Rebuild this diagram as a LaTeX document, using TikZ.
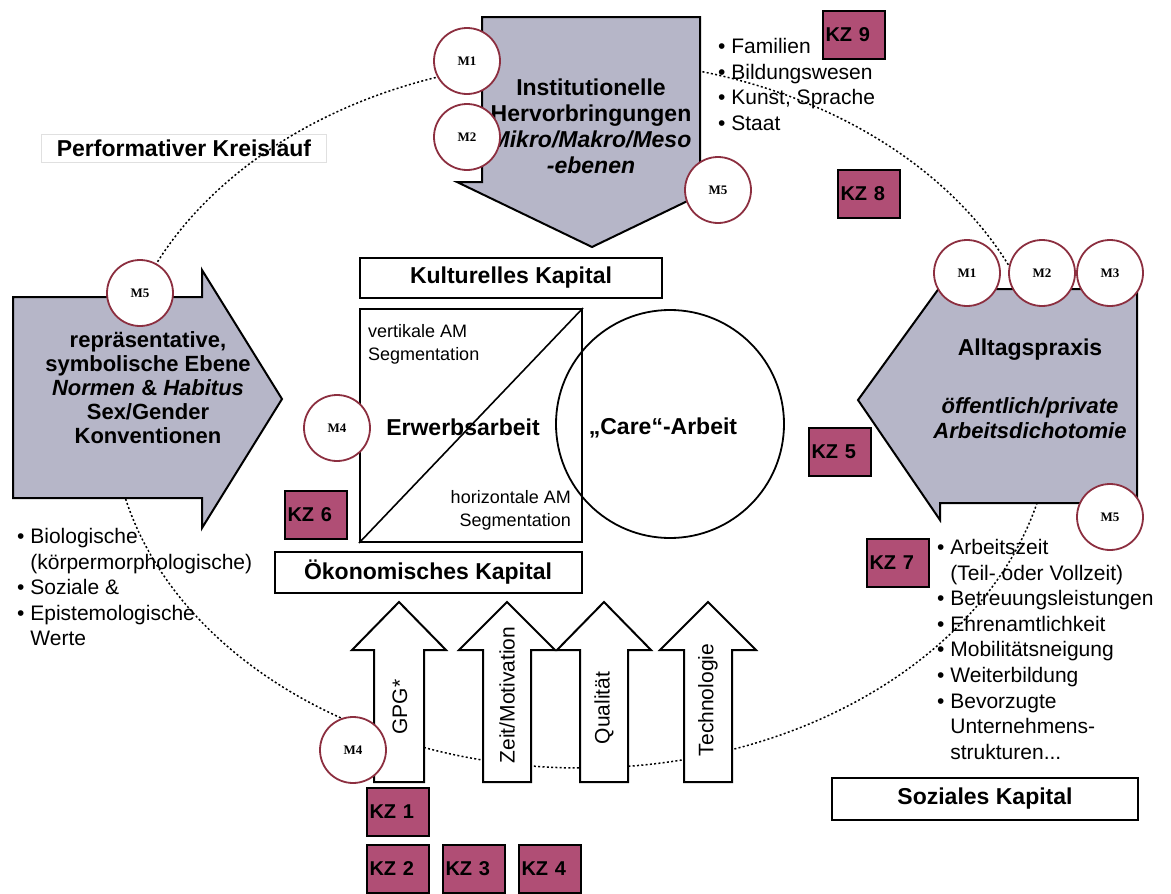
\documentclass[tikz,border=0pt]{standalone}
\usepackage{fontspec}
\setmainfont{Liberation Sans}
\newfontfamily\mfont{Liberation Serif}
\definecolor{arrowgray}{HTML}{B6B6C8}
\definecolor{kzrose}{HTML}{B04E75}
\definecolor{ringred}{HTML}{8C2F40}
\newcommand{\lbul}{\textbullet\ }
\newcommand{\lind}{\phantom{\textbullet\ }}
\begin{document}
\begin{tikzpicture}[x=1pt,y=-1pt,
  mring/.style={circle, draw=ringred, line width=1.8pt, fill=white, minimum size=66pt, inner sep=0pt, font=\mfont\fontsize{13}{13}\selectfont\bfseries},
  kzbox/.style={draw=black, line width=2.2pt, fill=kzrose, minimum height=48pt, text width=57pt, inner xsep=2.5pt, inner ysep=0pt, align=left, font=\fontsize{20}{20}\selectfont\bfseries},
  kapital/.style={draw=black, line width=2pt, fill=white, inner sep=0pt, font=\fontsize{23}{23}\selectfont\bfseries},
  grayarrow/.style={draw=black, line width=2pt, fill=arrowgray, line join=miter},
  whitearrow/.style={draw=black, line width=2pt, fill=white, line join=miter},
  headline/.style={align=center, inner sep=0pt, font=\fontsize{23}{26}\selectfont\bfseries},
  bullets/.style={align=left, anchor=north west, inner sep=0pt, font=\fontsize{21}{25.6}\selectfont},
  vlabel/.style={rotate=90, inner sep=0pt, font=\fontsize{21}{21}\selectfont},
  cycleline/.style={line width=1.5pt, dash pattern=on 2pt off 2.3pt}
]
\useasboundingbox (0,0) rectangle (1171,894);
\fill[white] (0,0) rectangle (1171,894);

% title of the cycle
\node[draw=black!12, fill=white, minimum width=285pt, minimum height=28pt, inner sep=0pt,
      font=\fontsize{23}{23}\selectfont\bfseries] (kreislauf) at (184,148) {Performativer Kreislauf};

% performative cycle
\draw[cycleline] (582,414) ellipse [x radius=470, y radius=354];

% top block arrow
\draw[grayarrow] (482,17) -- (700,17) -- (700,182) -- (727,182) -- (592,247) -- (457,182) -- (482,182) -- cycle;
\node[headline] (inst) at (591,126) {Institutionelle\\Hervorbringungen\\\textit{Mikro/Makro/Meso}\\\textit{-ebenen}};

% left block arrow
\draw[grayarrow] (13,297) -- (202,297) -- (202,270) -- (282,399) -- (202,528) -- (202,498) -- (13,498) -- cycle;
\node[headline, font=\fontsize{22}{24}\selectfont\bfseries] (repr) at (148,388) {repräsentative,\\symbolische Ebene\\\textit{Normen} \& \textit{Habitus}\\Sex/Gender\\Konventionen};

% right block arrow
\draw[grayarrow] (1137,289) -- (945,289) -- (945,280) -- (858,400) -- (940,520) -- (940,503) -- (1137,503) -- cycle;
\node[headline] (alltag) at (1030,350) {Alltagspraxis};
\node[headline, font=\fontsize{22}{25}\selectfont\bfseries\itshape] (dicho) at (1030,418) {öffentlich/private\\Arbeitsdichotomie};

% bottom arrows
\draw[whitearrow] (374,782) -- (374,650) -- (352,650) -- (399,602) -- (446,650) -- (424,650) -- (424,782) -- cycle;
\draw[whitearrow] (483,782) -- (483,650) -- (459,650) -- (507,602) -- (555,650) -- (531,650) -- (531,782) -- cycle;
\draw[whitearrow] (580,782) -- (580,650) -- (557,650) -- (604,602) -- (651,650) -- (628,650) -- (628,782) -- cycle;
\draw[whitearrow] (684,782) -- (684,650) -- (660,650) -- (708,602) -- (756,650) -- (732,650) -- (732,782) -- cycle;
\node[vlabel] (gpg) at (400,707) {GPG*};
\node[vlabel] (zeit) at (507,695) {Zeit/Motivation};
\node[vlabel] (qual) at (604,708) {Qualität};
\node[vlabel] (tech) at (708,700) {Technologie};

% capital boxes
\node[kapital, minimum width=302pt, minimum height=40pt] (kultur) at (511,278) {Kulturelles Kapital};
\node[kapital, minimum width=307pt, minimum height=41pt] (oeko) at (428,572) {Ökonomisches Kapital};
\node[kapital, minimum width=306pt, minimum height=42pt] (sozial) at (985,799) {Soziales Kapital};

% gainful work and care work
\node[draw=black, line width=2pt, minimum width=222pt, minimum height=233pt, inner sep=0pt] (erwerb) at (471,425.5) {};
\draw[line width=1.6pt] (erwerb.south west) -- (erwerb.north east);
\node[draw=black, line width=1.8pt, circle, minimum size=228pt, inner sep=0pt] (care) at (670,424) {};
\node[inner sep=0pt, font=\fontsize{23}{23}\selectfont\bfseries] (erwtext) at (463,427) {Erwerbsarbeit};
\node[inner sep=0pt, font=\fontsize{23}{23}\selectfont\bfseries] (caretext) at (663,428) {„Care“-Arbeit};
\node[anchor=north west, align=left, inner sep=0pt, font=\fontsize{18}{23}\selectfont] (vert) at (368,324) {vertikale AM\\Segmentation};
\node[anchor=north east, align=right, inner sep=0pt, font=\fontsize{18}{23}\selectfont] (hori) at (571,490) {horizontale AM\\Segmentation};

% bullet lists
\node[bullets] (inst list) at (718,38) {\lbul Familien\\\lbul Bildungswesen\\\lbul Kunst, Sprache\\\lbul Staat};
\node[bullets] (norm list) at (17,528) {\lbul Biologische\\\lind(körpermorphologische)\\\lbul Soziale \&\\\lbul Epistemologische\\\lind Werte};
\node[bullets] (praxis list) at (937,539) {\lbul Arbeitszeit\\\lind(Teil- oder Vollzeit)\\\lbul Betreuungsleistungen\\\lbul Ehrenamtlichkeit\\\lbul Mobilitätsneigung\\\lbul Weiterbildung\\\lbul Bevorzugte\\\lind Unternehmens-\\\lind strukturen...};

% M markers
\node[mring] (m1top) at (467,61) {M1};
\node[mring] (m2top) at (467,137) {M2};
\node[mring] (m5top) at (718,190) {M5};
\node[mring] (m5left) at (140,293) {M5};
\node[mring] (m1right) at (967,273) {M1};
\node[mring] (m2right) at (1042,273) {M2};
\node[mring] (m3right) at (1110,273) {M3};
\node[mring] (m5right) at (1110,517) {M5};
\node[mring] (m4mid) at (337,428) {M4};
\node[mring] (m4low) at (353,750) {M4};

% KZ markers
\node[kzbox] (kz9) at (854,35) {KZ 9};
\node[kzbox] (kz8) at (869,194) {KZ 8};
\node[kzbox] (kz5) at (840,452) {KZ 5};
\node[kzbox] (kz7) at (898,563) {KZ 7};
\node[kzbox] (kz6) at (316,515) {KZ 6};
\node[kzbox] (kz1) at (398,812) {KZ 1};
\node[kzbox] (kz2) at (398,869) {KZ 2};
\node[kzbox] (kz3) at (474,869) {KZ 3};
\node[kzbox] (kz4) at (550,869) {KZ 4};
\end{tikzpicture}
\end{document}
